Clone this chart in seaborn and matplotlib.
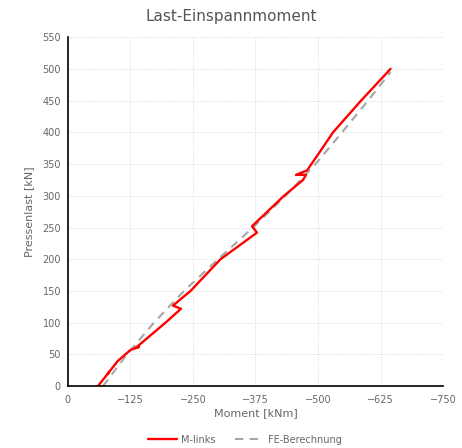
import numpy as np
import pandas as pd
import matplotlib.pyplot as plt
import seaborn as sns

# measured curve (M-links)
m_links_x = [-60, -82, -80, -100, -125, -142, -135, -165, -195, -226, -210, -245,
             -305, -378, -368, -432, -470, -476, -456, -478, -500, -506, -530, -586, -645]
m_links_y = [0, 22, 20, 40, 57, 62, 60, 80, 100, 122, 127, 150,
             200, 242, 252, 300, 325, 333, 333, 340, 365, 372, 400, 450, 500]

# FE calculation
fe_x = [-70, -118, -172, -232, -300, -370, -435, -495, -548, -600, -645]
fe_y = [0, 50, 100, 150, 200, 250, 300, 350, 400, 450, 495]

x_ticks = [0, -125, -250, -375, -500, -625, -750]
y_ticks = list(range(0, 551, 50))

sns.set_style("white")
plt.rcParams['font.family'] = ['DejaVu Sans']

fig = plt.figure(figsize=(4.62, 4.48), dpi=100)
ax = fig.add_axes([0.147, 0.138, 0.812, 0.779])

df_m = pd.DataFrame({"x": m_links_x, "y": m_links_y})
df_fe = pd.DataFrame({"x": fe_x, "y": fe_y})

sns.lineplot(data=df_fe, x="x", y="y", sort=False, estimator=None, ax=ax,
             color="#a6a6a6", linestyle=(0, (4, 3)), linewidth=1.5, label="FE-Berechnung")
sns.lineplot(data=df_m, x="x", y="y", sort=False, estimator=None, ax=ax,
             color="#ff0000", linewidth=1.7, label="M-links")

ax.set_xlim(0, -750)
ax.set_ylim(0, 550)
ax.set_xticks(x_ticks)
ax.set_yticks(y_ticks)
ax.grid(True, color="#d9d9d9", linestyle=(0, (1, 1.5)), linewidth=0.7)
ax.tick_params(axis="both", labelsize=7, labelcolor="#666666", color="black",
               length=3, width=1, direction="out")
ax.tick_params(axis="y", pad=2)
for s in ["top", "right"]:
    ax.spines[s].set_visible(False)
for s in ["left", "bottom"]:
    ax.spines[s].set_color("black")
    ax.spines[s].set_linewidth(1.2)

ax.set_xlabel("Moment [kNm]", fontsize=8, color="#666666", labelpad=2)
ax.set_ylabel("Pressenlast [kN]", fontsize=8, color="#666666", labelpad=6)
fig.suptitle("Last-Einspannmoment", fontsize=11, color="#555555", y=0.98)

handles, labels = ax.get_legend_handles_labels()
ax.legend(handles[::-1], labels[::-1], loc="lower center", bbox_to_anchor=(0.53, -0.012),
          bbox_transform=fig.transFigure, ncol=2, frameon=False, fontsize=7,
          labelcolor="#666666", handlelength=3, columnspacing=2, handletextpad=0.4)

fig.savefig("out.png", dpi=100)
